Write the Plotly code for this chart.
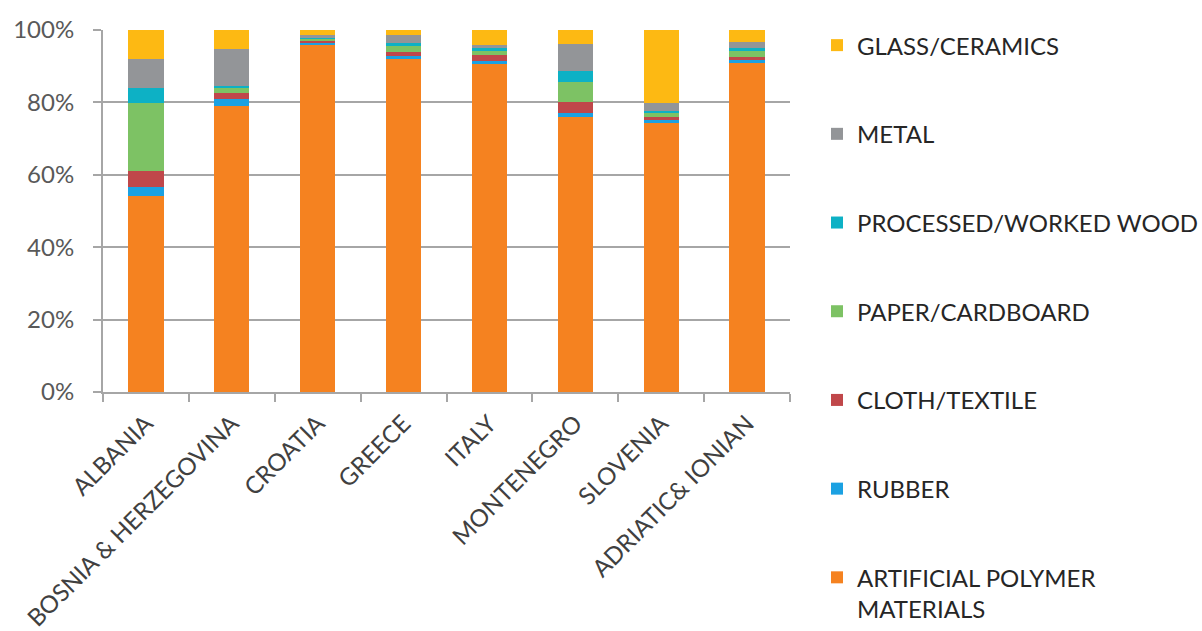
import plotly.graph_objects as go

countries = ["ALBANIA", "BOSNIA & HERZEGOVINA", "CROATIA", "GREECE", "ITALY",
             "MONTENEGRO", "SLOVENIA", "ADRIATIC& IONIAN"]

artificial_polymer = [54.2, 79.0, 96.0, 92.0, 90.5, 75.9, 74.2, 90.8]
rubber             = [2.5, 1.9, 0.4, 0.9, 1.0, 1.1, 0.9, 0.9]
cloth_textile      = [4.4, 1.6, 0.6, 1.0, 1.7, 3.2, 0.8, 0.9]
paper_cardboard    = [18.6, 1.7, 0.4, 1.7, 1.0, 5.4, 1.2, 1.6]
processed_wood     = [4.4, 0.4, 0.6, 0.7, 0.8, 3.1, 0.6, 0.9]
metal              = [7.8, 10.2, 0.5, 2.3, 0.9, 7.4, 2.1, 1.5]
glass_ceramics     = [8.1, 5.2, 1.5, 1.4, 4.1, 3.9, 20.2, 3.4]

series_names = ["ARTIFICIAL POLYMER<br>MATERIALS", "RUBBER", "CLOTH/TEXTILE",
                "PAPER/CARDBOARD", "PROCESSED/WORKED WOOD", "METAL", "GLASS/CERAMICS"]
series_values = [artificial_polymer, rubber, cloth_textile, paper_cardboard,
                 processed_wood, metal, glass_ceramics]
series_colors = ["#F58220", "#1BA1E2", "#C0474A", "#7DC264", "#0DB1C5", "#939598", "#FDB913"]

yticks = [0, 20, 40, 60, 80, 100]
ytick_labels = ["0%", "20%", "40%", "60%", "80%", "100%"]

fig = go.Figure()
n = len(series_names)
for i, (name, vals, col) in enumerate(zip(series_names, series_values, series_colors)):
    fig.add_trace(go.Bar(
        x=countries, y=vals, name=name, marker_color=col,
        marker_line_width=0, legendgroup=f"g{i}", legendrank=n - i,
    ))

fig.update_layout(
    barmode="stack",
    bargap=0.59,
    width=1202, height=631,
    margin=dict(l=103, r=412, t=30, b=239, autoexpand=False),
    plot_bgcolor="white", paper_bgcolor="white",
    font=dict(family="Lato, Open Sans, sans-serif", size=24, color="#404040"),
    legend=dict(
        xref="container", yref="container",
        x=0.6797, y=0.9635, xanchor="left", yanchor="top",
        traceorder="grouped", tracegroupgap=54.5,
        font=dict(size=24, color="#262626"),
        valign="top", itemwidth=30, maxheight=700,
    ),
    showlegend=True,
)
fig.update_yaxes(
    range=[0, 100], tickvals=yticks, ticktext=ytick_labels,
    showgrid=True, gridcolor="#A6A6A6", gridwidth=1.5,
    showline=True, linecolor="#A6A6A6", linewidth=2,
    ticks="outside", ticklen=8, tickcolor="#A6A6A6", tickwidth=2,
    tickfont=dict(size=24, color="#595959"), zeroline=False,
    ticklabelstandoff=14, automargin=False,
)
fig.update_xaxes(
    tickangle=-45, showline=True, linecolor="#A6A6A6", linewidth=2,
    ticks="outside", tickson="boundaries", ticklen=8, tickcolor="#A6A6A6", tickwidth=2,
    tickfont=dict(size=24, color="#404040"), ticklabelstandoff=6, automargin=False,
)

fig.write_html("out.html", config={"displayModeBar": False},
               post_script="document.body.style.margin='0';")
